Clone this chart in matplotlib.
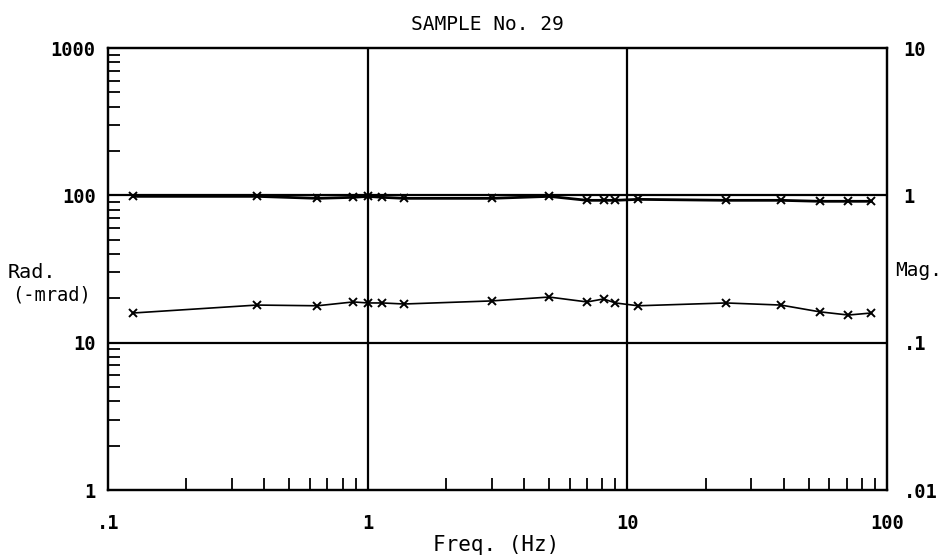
import matplotlib
matplotlib.use("Agg")
import matplotlib.pyplot as plt
from matplotlib.ticker import LogLocator, FixedLocator, FixedFormatter, NullFormatter

# ---- data ----
freq = [0.125, 0.375, 0.64, 0.88, 1.0, 1.14, 1.38, 3.0, 5.0, 7.0, 8.1, 9.0,
        11.0, 24.0, 39.0, 55.0, 71.0, 87.0]
phase_mrad = [15.9, 18.0, 17.8, 18.9, 18.6, 18.6, 18.3, 19.2, 20.4, 18.9, 19.8,
              18.6, 17.8, 18.6, 18.0, 16.2, 15.4, 15.9]
magnitude = [0.984, 0.984, 0.954, 0.969, 0.984, 0.969, 0.954, 0.954, 0.984,
             0.925, 0.925, 0.925, 0.939, 0.925, 0.925, 0.911, 0.911, 0.911]

title = "SAMPLE No. 29"
x_ticks = [0.1, 1, 10, 100]
x_tick_labels = [".1", "1", "10", "100"]
left_ticks = [1, 10, 100, 1000]
left_tick_labels = ["1", "10", "100", "1000"]
right_ticks = [0.01, 0.1, 1, 10]
right_tick_labels = [".01", ".1", "1", "10"]

FONT = "DejaVu Sans Mono"
plt.rcParams["font.family"] = [FONT, "DejaVu Sans"]

fig = plt.figure(figsize=(9.51, 5.60), dpi=100)
ax = fig.add_axes([108 / 951, 1 - 490 / 560, (887 - 108) / 951, (490 - 48) / 560])

ax.set_xscale("log")
ax.set_yscale("log")
ax.set_xlim(0.1, 100)
ax.set_ylim(1, 1000)

# grid lines at inner decades
for xv in [1, 10]:
    ax.axvline(xv, color="black", lw=1.6, zorder=1)
for yv in [10, 100]:
    ax.axhline(yv, color="black", lw=1.6, zorder=1)

ax.plot(freq, phase_mrad, color="black", lw=1.2, marker="x", ms=5.5, mew=1.4, zorder=3)

for s in ax.spines.values():
    s.set_linewidth(1.6)

ax.xaxis.set_major_locator(FixedLocator(x_ticks))
ax.xaxis.set_major_formatter(FixedFormatter(x_tick_labels))
ax.xaxis.set_minor_locator(LogLocator(base=10, subs=range(2, 10)))
ax.xaxis.set_minor_formatter(NullFormatter())
ax.yaxis.set_major_locator(FixedLocator(left_ticks))
ax.yaxis.set_major_formatter(FixedFormatter(left_tick_labels))
ax.yaxis.set_minor_locator(LogLocator(base=10, subs=range(2, 10)))
ax.yaxis.set_minor_formatter(NullFormatter())

ax.tick_params(which="major", length=0)
ax.tick_params(axis="x", which="major", pad=17, labelsize=13.5)
ax.tick_params(axis="y", which="major", pad=9, labelsize=13.5)
ax.tick_params(which="minor", direction="in", length=8.5, width=1.3,
               top=False, right=False)
for lab in ax.get_xticklabels() + ax.get_yticklabels():
    lab.set_fontweight("bold")

ax2 = ax.twinx()
ax2.set_yscale("log")
ax2.set_ylim(0.01, 10)
ax2.plot(freq, magnitude, color="black", lw=2.0, marker="x", ms=5.5, mew=1.4, zorder=3)
ax2.yaxis.set_major_locator(FixedLocator(right_ticks))
ax2.yaxis.set_major_formatter(FixedFormatter(right_tick_labels))
ax2.yaxis.set_minor_locator(FixedLocator([]))
ax2.tick_params(axis="y", which="both", length=0, pad=12, labelsize=13.5)
for lab in ax2.get_yticklabels():
    lab.set_fontweight("bold")
    lab.set_horizontalalignment("left")
for s in ax2.spines.values():
    s.set_linewidth(1.6)

fig.text(487 / 951, 1 - 24 / 560, title, ha="center", va="center", fontsize=14)
fig.text(496 / 951, 1 - 545 / 560, "Freq. (Hz)", ha="center", va="center", fontsize=15)
fig.text(8 / 951, 1 - 272 / 560, "Rad.", ha="left", va="center", fontsize=14.5)
fig.text(12 / 951, 1 - 295 / 560, "(-mrad)", ha="left", va="center", fontsize=13.5)
fig.text(895 / 951, 1 - 270 / 560, "Mag.", ha="left", va="center", fontsize=14)

fig.savefig("out.png", dpi=100)
